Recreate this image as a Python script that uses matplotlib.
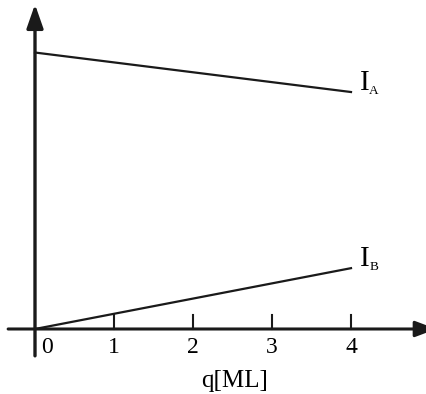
import matplotlib
matplotlib.use('Agg')
import matplotlib.pyplot as plt

# data (arbitrary intensity units)
theta = [0, 4]
I_A = [3.5, 3.0]
I_B = [0.0, 0.77]
tick_vals = [0, 1, 2, 3, 4]
tick_labels = ['0', '1', '2', '3', '4']

plt.rcParams['font.family'] = ['Liberation Serif', 'DejaVu Serif']

fig = plt.figure(figsize=(4.27, 3.94), dpi=100)
ax = fig.add_axes([0, 0, 1, 1])
ax.set_xlim(-0.443, 4.962)
ax.set_ylim(-0.823, 4.165)
ax.axis('off')

# axes with arrows (x arrow tip runs off the right edge, as in the original)
ax.annotate('', xy=(5.08, 0), xytext=(-0.34, 0), annotation_clip=False,
            arrowprops=dict(arrowstyle='-|>,head_length=0.8,head_width=0.3',
                            lw=2.2, color='#1a1a1a',
                            mutation_scale=16, shrinkA=0, shrinkB=0))
ax.annotate('', xy=(0, 4.11), xytext=(0, -0.34), annotation_clip=False,
            arrowprops=dict(arrowstyle='-|>,head_length=0.8,head_width=0.28',
                            lw=2.4, color='#1a1a1a',
                            mutation_scale=18, shrinkA=0, shrinkB=0))

# tick marks
for t in tick_vals[1:]:
    ax.plot([t, t], [0, 0.18], color='#1a1a1a', lw=1.5)

for t, lab in zip(tick_vals, tick_labels):
    xpos = t + 0.15 if t == 0 else t
    ax.text(xpos, -0.1, lab, ha='center', va='top', fontsize=17)

ax.text(2.53, -0.52, 'q[ML]', ha='center', va='top', fontsize=18)

# data lines
ax.plot(theta, I_A, color='#1a1a1a', lw=1.6)
ax.plot(theta, I_B, color='#1a1a1a', lw=1.6)

# line labels
ax.text(4.11, 3.03, 'I', ha='left', va='baseline', fontsize=21)
ax.text(4.23, 2.98, 'A', ha='left', va='baseline', fontsize=9.5)
ax.text(4.11, 0.8, 'I', ha='left', va='baseline', fontsize=21)
ax.text(4.23, 0.75, 'B', ha='left', va='baseline', fontsize=9.5)

fig.savefig('out.png', dpi=100)
